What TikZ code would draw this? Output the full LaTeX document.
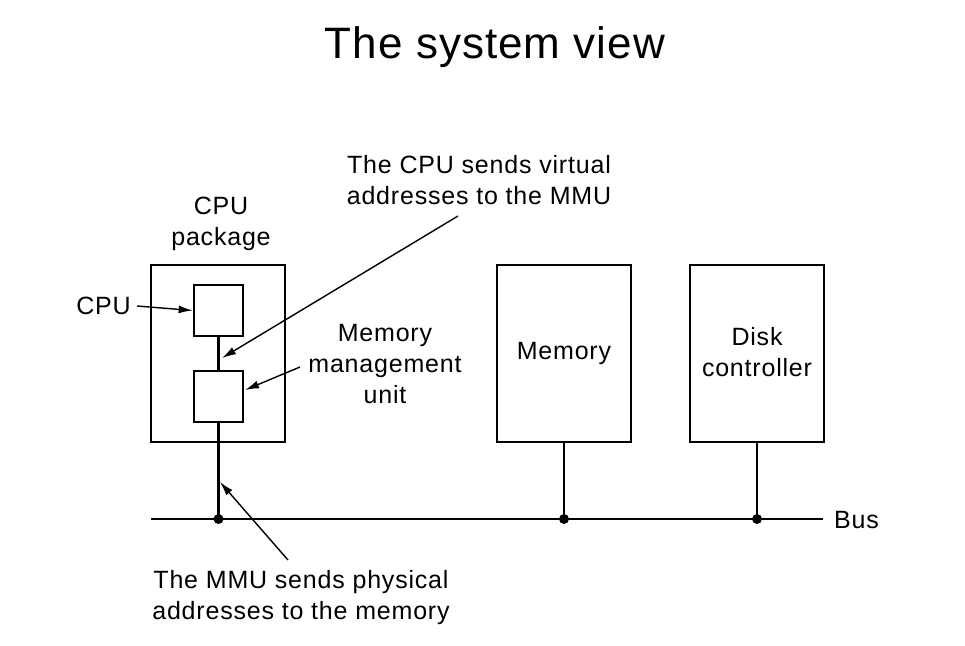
\documentclass[tikz,border=0pt]{standalone}
\usepackage{fontspec}
\setmainfont{Liberation Sans}[LetterSpace=3.2]
\newfontfamily\titlefont{Liberation Sans}[LetterSpace=2.4]
\usetikzlibrary{arrows.meta}
\begin{document}
\begin{tikzpicture}[x=1pt,y=-1pt,
  txt/.style={font=\fontsize{25}{31}\selectfont, inner sep=0pt, align=center},
  bigbox/.style={draw, line width=2.7pt, minimum width=134pt, minimum height=177pt, inner sep=0pt},
  smallbox/.style={draw, line width=2.7pt, minimum width=49pt, minimum height=51pt, inner sep=0pt},
  wire/.style={line width=2.5pt},
  pointer/.style={line width=1.4pt, -{Latex[length=14pt,width=8pt]}},
  dot/.style={circle, fill, inner sep=0pt, minimum size=10pt}]
\useasboundingbox (0,0) rectangle (965,645);
\node[font=\titlefont\fontsize{44}{50}\selectfont, inner sep=0pt] (title) at (495,47) {The system view};

\node[bigbox] (pkg) at (218,353.5) {};
\node[smallbox] (cpu) at (218.5,310.5) {};
\node[smallbox] (mmu) at (218.5,396.5) {};
\node[bigbox] (mem) at (564,353.5) {};
\node[bigbox] (disk) at (757,353.5) {};

\node[txt] (pkglabel) at (221,224) {CPU\\package};
\node[txt] (virt) at (479,180) {The CPU sends virtual\\addresses to the MMU};
\node[txt] (mmulabel) at (385,364) {Memory\\management\\unit};
\node[txt] (memlabel) at (564,353) {Memory};
\node[txt] (disklabel) at (757,352) {Disk\\controller};
\node[txt, anchor=east] (cpulabel) at (131,306) {CPU};
\node[txt, anchor=west] (buslabel) at (834,520) {Bus};
\node[txt] (phys) at (301,598) {The MMU sends physical\\addresses to the memory};

\coordinate (busL) at (151,519);
\coordinate (busR) at (823,519);
\node[dot] (j1) at (218.5,519) {};
\node[dot] (j2) at (564,519) {};
\node[dot] (j3) at (757,519) {};

\draw[wire] (busL) -- (busR);
\draw[wire] (cpu.south) -- (mmu.north);
\draw[wire] (mmu.south) -- (j1.center);
\draw[wire] (mem.south) -- (j2.center);
\draw[wire] (disk.south) -- (j3.center);

\coordinate (virtA) at (458,216);
\coordinate (virtB) at (222,358);
\coordinate (mmuA) at (300,367);
\coordinate (mmuB) at (245,390);
\coordinate (physA) at (288,560);
\coordinate (physB) at (220,482);
\coordinate (cpuA) at (137,306);

\draw[pointer] (virtA) -- (virtB);
\draw[pointer] (mmuA) -- (mmuB);
\draw[pointer] (physA) -- (physB);
\draw[pointer] (cpuA) -- (cpu.west);
\end{tikzpicture}
\end{document}
